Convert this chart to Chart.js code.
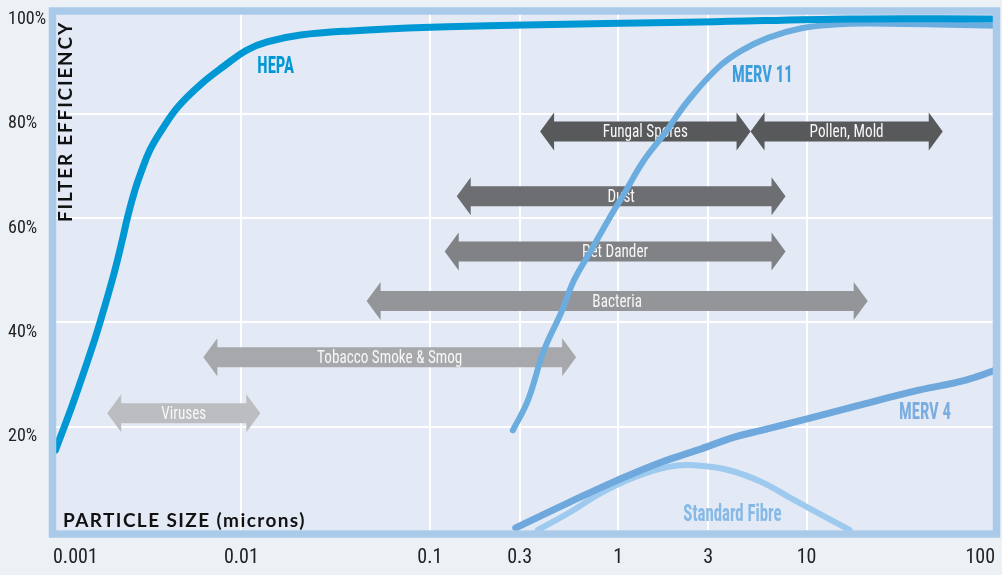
<!DOCTYPE html>
<html>
<head>
<meta charset="utf-8">
<script src="https://cdn.jsdelivr.net/npm/chart.js@4.4.1/dist/chart.umd.min.js"></script>
<style>
  html, body { margin: 0; padding: 0; background: #ecf1f5; }
  canvas { display: block; }
</style>
</head>
<body>
<canvas id="grafico" width="1002" height="575"></canvas>
<script>
// particle size ticks (microns)
const sizeTicks = [0.001, 0.01, 0.1, 0.3, 1, 3, 10, 100];
const sizeTickLabels = ['0.001', '0.01', '0.1', '0.3', '1', '3', '10', '100'];
const efficiencyTicks = [0, 20, 40, 60, 80, 100];

// filter curves
const hepaSize = [0.00103, 0.001277, 0.00161, 0.001813, 0.002109, 0.002333, 0.002491, 0.002723, 0.00292, 0.003273, 0.003776, 0.004624, 0.006152, 0.00798, 0.01066, 0.0137, 0.0206, 0.038, 0.101, 0.27, 2.76, 17.3, 100];
const hepaEff = [15.5, 24.5, 35.1, 41.1, 49.4, 55.8, 60.3, 65.4, 68.6, 73.1, 76.9, 81.4, 85.8, 89.0, 92.2, 93.8, 95.1, 95.9, 96.6, 97.0, 97.6, 98.2, 98.2];

const merv11Size = [0.276, 0.332, 0.404, 0.497, 0.583, 0.718, 0.885, 1.08, 1.37, 1.76, 2.36, 3.4, 4.51, 6.28, 9.4, 14.1, 21.4, 100];
const merv11Eff = [19.3, 25.1, 34.7, 41.8, 48.1, 53.8, 59.6, 64.8, 71.1, 76.2, 82.6, 88.9, 92.1, 94.6, 96.4, 97.1, 97.3, 96.9];

const merv4Size = [0.286, 0.542, 1.0, 1.69, 2.63, 4.14, 5.76, 10.3, 18.9, 39.4, 69.2, 100];
const merv4Eff = [0.6, 5.4, 9.8, 13.2, 15.5, 18.0, 19.3, 21.6, 24.1, 27.0, 28.9, 30.8];

const fibreSize = [0.375, 0.542, 0.813, 1.22, 1.85, 2.53, 3.84, 5.76, 8.63, 12.0, 16.9];
const fibreEff = [0.2, 3.4, 7.3, 10.3, 12.3, 12.6, 11.7, 9.4, 5.9, 3.1, 0.2];

// particle size ranges
const particles = ['Viruses', 'Tobacco Smoke & Smog', 'Bacteria', 'Pet Dander', 'Dust', 'Fungal Spores', 'Pollen, Mold'];
const particleFrom = [0.00194, 0.00628, 0.0462, 0.12, 0.139, 0.385, 5.04];
const particleTo = [0.0126, 0.598, 21.1, 7.73, 7.73, 5.04, 52.8];
const particleLevel = [22.6, 33.3, 44.1, 53.6, 64.2, 76.6, 76.6];

const arrowColors = ['#bcbdc0', '#a7a8ab', '#939598', '#808285', '#6d6e71', '#58595b', '#58595b'];
const narrow = "'Roboto Condensed', Roboto, sans-serif";

function points(xs, ys) {
  return xs.map((x, i) => ({ x: x, y: ys[i] }));
}

function curve(label, xs, ys, color, width) {
  return {
    label: label,
    data: points(xs, ys),
    borderColor: color,
    borderWidth: width,
    borderCapStyle: 'round',
    pointRadius: 0,
    fill: false,
    tension: 0.4
  };
}

const backgroundPlugin = {
  id: 'background',
  beforeDraw(chart) {
    const { ctx, chartArea: a } = chart;
    ctx.save();
    ctx.fillStyle = '#ecf1f5';
    ctx.fillRect(0, 0, chart.width, chart.height);
    ctx.fillStyle = '#e3eaf5';
    ctx.fillRect(a.left, a.top, a.right - a.left, a.bottom - a.top);
    ctx.restore();
  }
};

const arrowsPlugin = {
  id: 'arrows',
  beforeDatasetsDraw(chart) {
    const { ctx, scales: { x, y } } = chart;
    ctx.save();
    particles.forEach((name, i) => {
      const x1 = x.getPixelForValue(particleFrom[i]);
      const x2 = x.getPixelForValue(particleTo[i]);
      const yc = y.getPixelForValue(particleLevel[i]);
      const head = 14, headH = 19, bodyH = 10;
      ctx.beginPath();
      ctx.moveTo(x1, yc);
      ctx.lineTo(x1 + head, yc - headH);
      ctx.lineTo(x1 + head, yc - bodyH);
      ctx.lineTo(x2 - head, yc - bodyH);
      ctx.lineTo(x2 - head, yc - headH);
      ctx.lineTo(x2, yc);
      ctx.lineTo(x2 - head, yc + headH);
      ctx.lineTo(x2 - head, yc + bodyH);
      ctx.lineTo(x1 + head, yc + bodyH);
      ctx.lineTo(x1 + head, yc + headH);
      ctx.closePath();
      ctx.fillStyle = arrowColors[i];
      ctx.fill();

      ctx.save();
      ctx.translate((x1 + x2) / 2, yc + 1);
      ctx.scale(0.8, 1);
      ctx.fillStyle = '#f7f7f7';
      ctx.font = '19px ' + narrow;
      ctx.textAlign = 'center';
      ctx.textBaseline = 'middle';
      ctx.fillText(name, 0, 0);
      ctx.restore();
    });
    ctx.restore();
  }
};

const frameLabels = [
  { text: 'HEPA', x: 0.0152, y: 89.2, color: '#0097d5' },
  { text: 'MERV 11', x: 5.83, y: 87.4, color: '#3d9edc' },
  { text: 'MERV 4', x: 42.5, y: 22.8, color: '#7badE0' },
  { text: 'Standard Fibre', x: 4.04, y: 3.3, color: '#86b9e6' }
];

const framePlugin = {
  id: 'frame',
  afterDatasetsDraw(chart) {
    const { ctx, chartArea: a, scales: { x, y } } = chart;
    ctx.save();
    ctx.strokeStyle = '#a9cae9';
    ctx.lineWidth = 7.5;
    const l = a.left - 0.5, t = a.top + 1.5, r = a.right + 1.5, b = a.bottom + 3;
    ctx.strokeRect(l, t, r - l, b - t);

    frameLabels.forEach(lab => {
      ctx.save();
      ctx.translate(x.getPixelForValue(lab.x), y.getPixelForValue(lab.y));
      ctx.scale(0.7, 1);
      ctx.fillStyle = lab.color;
      ctx.font = 'bold 24px ' + narrow;
      ctx.textAlign = 'center';
      ctx.textBaseline = 'middle';
      ctx.fillText(lab.text, 0, 1);
      ctx.restore();
    });

    ctx.fillStyle = '#111111';
    ctx.font = 'bold 19px Lato, sans-serif';
    ctx.textAlign = 'left';
    ctx.textBaseline = 'alphabetic';
    ctx.letterSpacing = '1.4px';
    ctx.fillText('PARTICLE SIZE (microns)', a.left + 10, a.bottom - 4);

    ctx.save();
    ctx.letterSpacing = '1.8px';
    ctx.translate(a.left + 19, a.top + 212.5);
    ctx.rotate(-Math.PI / 2);
    ctx.fillText('FILTER EFFICIENCY', 0, 0);
    ctx.restore();
    ctx.restore();
  }
};

new Chart(document.getElementById('grafico'), {
  type: 'line',
  data: {
    datasets: [
      curve('HEPA', hepaSize, hepaEff, '#0097d5', 7),
      curve('MERV 11', merv11Size, merv11Eff, '#6cade0', 6),
      curve('MERV 4', merv4Size, merv4Eff, '#6fa8dc', 7),
      curve('Standard Fibre', fibreSize, fibreEff, '#9dcaee', 6)
    ]
  },
  options: {
    responsive: false,
    animation: false,
    layout: { padding: { left: 8, right: 7, top: 9.5, bottom: 0 } },
    plugins: {
      legend: { display: false },
      tooltip: { enabled: false }
    },
    scales: {
      x: {
        type: 'logarithmic',
        min: 0.001,
        max: 100,
        border: { display: false },
        grid: { color: '#ffffff', lineWidth: 2, drawTicks: false },
        afterBuildTicks: scale => {
          scale.ticks = sizeTicks.map(v => ({ value: v }));
        },
        afterFit: scale => {
          scale.height = 44;
          scale.paddingLeft = 0;
          scale.paddingRight = 0;
        },
        ticks: {
          autoSkip: false,
          maxRotation: 0,
          align: 'inner',
          padding: 15,
          color: '#222222',
          font: { family: narrow, size: 20 },
          callback: (value, index) => sizeTickLabels[index]
        }
      },
      y: {
        min: 0,
        max: 100,
        border: { display: false },
        grid: { color: '#ffffff', lineWidth: 2, drawTicks: false },
        afterBuildTicks: scale => {
          scale.ticks = efficiencyTicks.map(v => ({ value: v }));
        },
        afterFit: scale => {
          scale.width = 45;
          scale.paddingTop = 0;
          scale.paddingBottom = 0;
        },
        ticks: {
          crossAlign: 'far',
          labelOffset: 10,
          color: '#222222',
          font: { family: narrow, size: 18 },
          callback: value => value === 0 ? '' : value + '%'
        }
      }
    }
  },
  plugins: [backgroundPlugin, arrowsPlugin, framePlugin]
});
</script>
</body>
</html>
